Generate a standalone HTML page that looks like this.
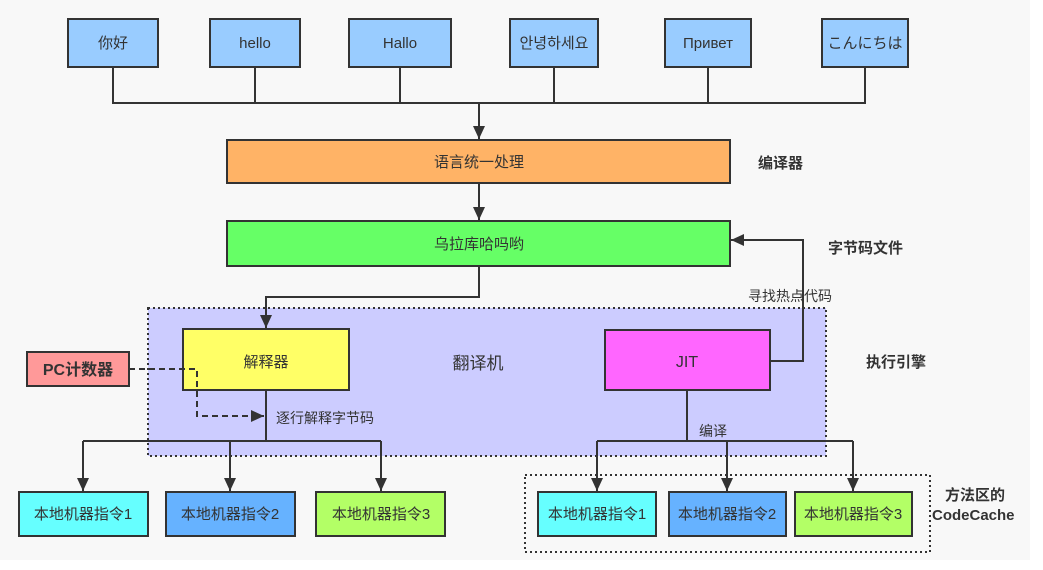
<!DOCTYPE html>
<html><head><meta charset="utf-8"><style>
html,body{margin:0;padding:0;background:#fff}
svg{display:block;font-family:"Liberation Sans","Noto Sans CJK SC",sans-serif}
</style></head><body>
<svg width="1043" height="570" viewBox="0 0 1043 570" xmlns="http://www.w3.org/2000/svg">
<defs><marker id="a" markerWidth="14" markerHeight="14" refX="13" refY="6" orient="auto" markerUnits="userSpaceOnUse"><path d="M0,0 L13,6 L0,12 z" fill="#333"/></marker></defs>
<rect x="0" y="0" width="1030" height="560" fill="#f8f8f8"/>
<g stroke="#333" stroke-width="2" fill="#99ccff">
<rect x="68" y="19" width="90" height="48"/>
<rect x="210" y="19" width="90" height="48"/>
<rect x="349" y="19" width="102" height="48"/>
<rect x="510" y="19" width="88" height="48"/>
<rect x="665" y="19" width="86" height="48"/>
<rect x="822" y="19" width="86" height="48"/>
</g>
<g font-size="15" fill="#333" text-anchor="middle">
<text x="113" y="48">你好</text><text x="255" y="48">hello</text><text x="400" y="48">Hallo</text>
<text x="554" y="48">안녕하세요</text><text x="708" y="48">Привет</text><text x="865" y="48">こんにちは</text>
</g>
<g stroke="#333" stroke-width="2" fill="none">
<path d="M113,67V103M255,67V103M400,67V103M554,67V103M708,67V103M865,67V103M112,103H866"/>
<path d="M479,103V139" marker-end="url(#a)"/>
<path d="M479,183V220" marker-end="url(#a)"/>
</g>
<rect x="227" y="140" width="503" height="43" fill="#ffb366" stroke="#333" stroke-width="2"/>
<text x="479" y="167" font-size="15" fill="#333" text-anchor="middle">语言统一处理</text>
<rect x="227" y="221" width="503" height="45" fill="#66ff66" stroke="#333" stroke-width="2"/>
<text x="479" y="249" font-size="15" fill="#333" text-anchor="middle">乌拉库哈吗哟</text>
<g font-size="15" font-weight="bold" fill="#333">
<text x="758" y="168">编译器</text><text x="828" y="253">字节码文件</text><text x="866" y="367">执行引擎</text>
<text x="945" y="500">方法区的</text><text x="932" y="520">CodeCache</text>
</g>
<rect x="148" y="308" width="678" height="148" fill="#ccccff" stroke="#333" stroke-width="2" stroke-dasharray="2,3"/>
<rect x="525" y="475" width="405" height="77" fill="none" stroke="#333" stroke-width="2" stroke-dasharray="2,3"/>
<g stroke="#333" stroke-width="2" fill="none">
<path d="M479,266V297H266V328" marker-end="url(#a)"/>
<path d="M266,390V441M83,441H381" />
<path d="M83,450V491" marker-end="url(#a)"/><path d="M230,440V491" marker-end="url(#a)"/><path d="M381,441V491" marker-end="url(#a)"/><path d="M83,441V492"/>
<path d="M770,361H803V240H731" marker-end="url(#a)"/>
<path d="M687,390V441M597,441H853"/>
<path d="M597,441V491" marker-end="url(#a)"/><path d="M727,441V491" marker-end="url(#a)"/><path d="M853,441V491" marker-end="url(#a)"/>
</g>
<rect x="183" y="329" width="166" height="61" fill="#ffff66" stroke="#333" stroke-width="2"/>
<text x="266" y="367" font-size="15" fill="#333" text-anchor="middle">解释器</text>
<rect x="605" y="330" width="165" height="60" fill="#ff66ff" stroke="#333" stroke-width="2"/>
<text x="687" y="367" font-size="16" fill="#333" text-anchor="middle">JIT</text>
<rect x="27" y="352" width="102" height="34" fill="#ff9999" stroke="#333" stroke-width="2"/>
<text x="78" y="375" font-size="16" font-weight="bold" fill="#333" text-anchor="middle">PC计数器</text>
<path d="M129,369H197V416H264" stroke="#333" stroke-width="2" fill="none" stroke-dasharray="6,4" marker-end="url(#a)"/>
<text x="478" y="369" font-size="17" fill="#333" text-anchor="middle">翻译机</text>
<text x="276" y="423" font-size="14" fill="#333">逐行解释字节码</text>
<text x="790" y="301" font-size="14" fill="#333" text-anchor="middle">寻找热点代码</text>
<text x="713" y="436" font-size="14" fill="#333" text-anchor="middle">编译</text>
<g stroke="#333" stroke-width="2">
<rect x="19" y="492" width="129" height="44" fill="#66ffff"/>
<rect x="166" y="492" width="129" height="44" fill="#66b2ff"/>
<rect x="316" y="492" width="129" height="44" fill="#b3ff66"/>
<rect x="538" y="492" width="118" height="44" fill="#66ffff"/>
<rect x="669" y="492" width="117" height="44" fill="#66b2ff"/>
<rect x="795" y="492" width="117" height="44" fill="#b3ff66"/>
</g>
<g font-size="15" fill="#333" text-anchor="middle">
<text x="83" y="519">本地机器指令1</text><text x="230" y="519">本地机器指令2</text><text x="381" y="519">本地机器指令3</text>
<text x="597" y="519">本地机器指令1</text><text x="727" y="519">本地机器指令2</text><text x="853" y="519">本地机器指令3</text>
</g>
</svg>
</body></html>
